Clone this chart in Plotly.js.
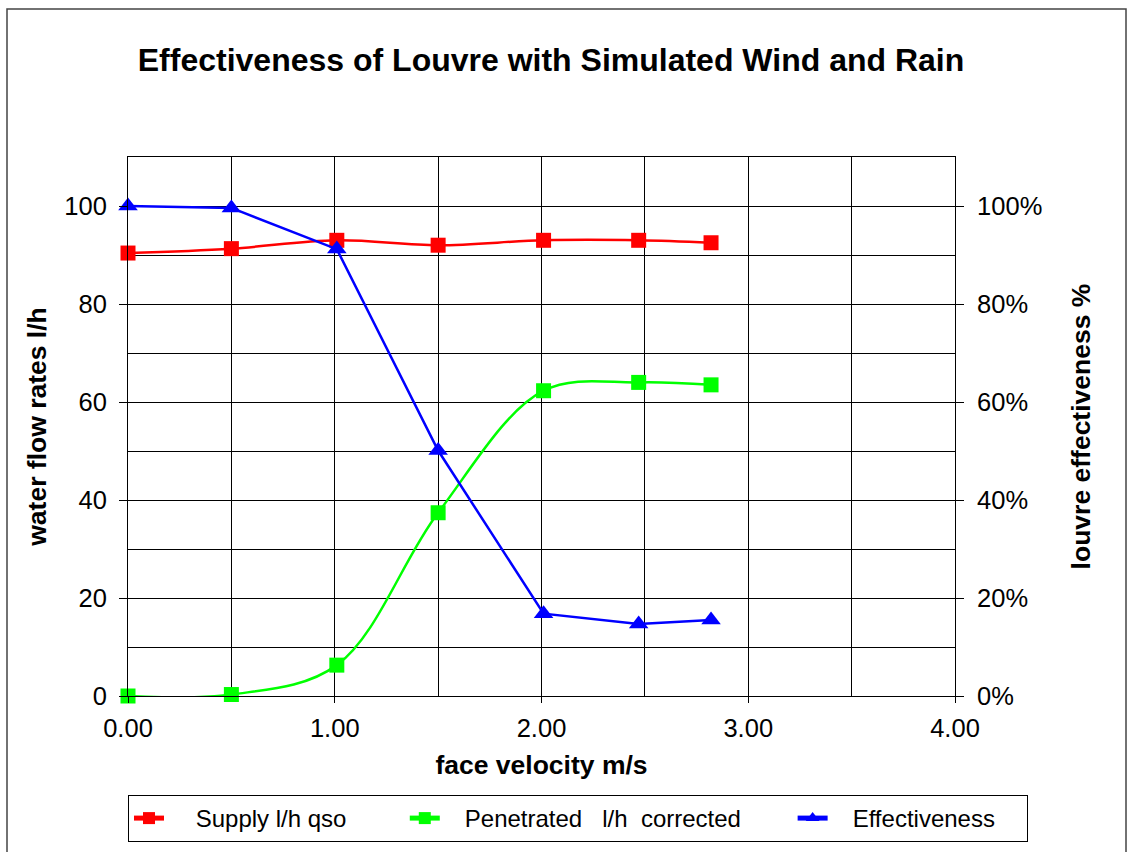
<!DOCTYPE html>
<html>
<head>
<meta charset="utf-8">
<script src="https://cdn.plot.ly/plotly-3.0.1.min.js"></script>
<style>
html,body{margin:0;padding:0;background:#fff;}
#chart{width:1128px;height:852px;}
</style>
</head>
<body>
<div id="chart"></div>
<script>
// face velocity m/s
var velocity = [0.00, 0.50, 1.01, 1.50, 2.01, 2.47, 2.82];
// Supply l/h qso
var supply = [90.4, 91.3, 93.0, 92.0, 93.0, 93.0, 92.5];
// Penetrated l/h corrected
var penetrated = [0.0, 0.3, 6.3, 37.4, 62.3, 64.0, 63.5];
// Effectiveness (fraction)
var effectiveness = [1.000, 0.996, 0.912, 0.501, 0.168, 0.147, 0.155];

var seriesNames = ["Supply l/h qso", "Penetrated   l/h  corrected", "Effectiveness"];

function pad(s, lead, trail) {
  var nb = '\u00a0';
  return nb.repeat(lead) + s.replace(/ /g, nb) + nb.repeat(trail);
}

var FONT = "Liberation Sans, Arial, sans-serif";

var traces = [
  {x: velocity, y: supply, name: pad(seriesNames[0], 4, 8), type: 'scatter', mode: 'lines+markers',
   cliponaxis: false,
   line: {color: '#ff0000', width: 2.5, shape: 'spline', smoothing: 1},
   marker: {symbol: 'square', size: 15, color: '#ff0000'}},
  {x: velocity, y: penetrated, name: pad(seriesNames[1], 3, 7), type: 'scatter', mode: 'lines+markers',
   cliponaxis: false,
   line: {color: '#00ff00', width: 2.5, shape: 'spline', smoothing: 1},
   marker: {symbol: 'square', size: 15, color: '#00ff00'}},
  {x: velocity, y: effectiveness, name: pad(seriesNames[2], 3, 4), type: 'scatter', mode: 'lines+markers', yaxis: 'y2',
   cliponaxis: false,
   line: {color: '#0000ff', width: 2.5},
   marker: {symbol: 'triangle-up', size: 17, color: '#0000ff'}}
];

var layout = {
  width: 1128, height: 852,
  paper_bgcolor: '#fff', plot_bgcolor: '#fff',
  margin: {l: 128, r: 173, t: 157, b: 156, autoexpand: false},
  font: {family: FONT, size: 25, color: '#000'},
  showlegend: true,
  title: {text: '<b>Effectiveness of Louvre with Simulated Wind and Rain</b>',
          font: {family: FONT, size: 32, color: '#000'},
          x: 0.4885, xref: 'container', xanchor: 'center',
          y: 1 - 60/852, yref: 'container', yanchor: 'middle'},
  xaxis: {
    range: [0, 4], dtick: 1, tick0: 0, tickformat: '.2f',
    showgrid: true, gridcolor: '#000', gridwidth: 1,
    minor: {dtick: 0.5, showgrid: true, gridcolor: '#000', gridwidth: 1},
    showline: true, linecolor: '#000', linewidth: 1, mirror: true,
    ticks: 'outside', ticklen: 6, tickcolor: '#000', ticklabelstandoff: 3,
    zeroline: false, automargin: false,
    tickfont: {family: FONT, size: 25.5},
    title: {text: '<b>face velocity m/s</b>', font: {family: FONT, size: 26.5}, standoff: 14},
    fixedrange: true
  },
  yaxis: {
    range: [0, 110], dtick: 20, tick0: 0,
    showgrid: true, gridcolor: '#000', gridwidth: 1,
    minor: {dtick: 10, showgrid: true, gridcolor: '#000', gridwidth: 1},
    showline: true, linecolor: '#000', linewidth: 1,
    ticks: 'outside', ticklen: 8, tickcolor: '#000', ticklabelstandoff: 7,
    zeroline: false, automargin: false,
    tickfont: {family: FONT, size: 25.5},
    title: {text: '<b>water flow rates l/h</b>', font: {family: FONT, size: 26.5}, standoff: 10},
    fixedrange: true
  },
  yaxis2: {
    overlaying: 'y', side: 'right',
    range: [0, 1.1], dtick: 0.2, tick0: 0, tickformat: '.0%',
    showgrid: false,
    showline: true, linecolor: '#000', linewidth: 1,
    ticks: 'outside', ticklen: 8, tickcolor: '#000', ticklabelstandoff: 8,
    zeroline: false, automargin: false,
    tickfont: {family: FONT, size: 25.5},
    title: {text: '<b>louvre effectiveness %</b>', font: {family: FONT, size: 26.5}, standoff: 30},
    fixedrange: true
  },
  legend: {
    orientation: 'h',
    xref: 'paper', yref: 'paper',
    x: (1028 - 128) / 827, xanchor: 'right',
    y: (696 - 795) / 539, yanchor: 'top',
    bordercolor: '#000', borderwidth: 1,
    bgcolor: '#fff',
    font: {family: FONT, size: 24, color: '#000'},
    itemsizing: 'constant'
  },
  shapes: [{
    type: 'rect', xref: 'paper', yref: 'paper',
    x0: (7 - 128) / 827, x1: (1126 - 128) / 827,
    y0: (696 - 900) / 539, y1: (696 - 9) / 539,
    line: {color: '#444', width: 1.5}, fillcolor: 'rgba(0,0,0,0)', layer: 'below'
  }]
};

Plotly.newPlot('chart', traces, layout, {displayModeBar: false, staticPlot: true});
</script>
</body>
</html>
